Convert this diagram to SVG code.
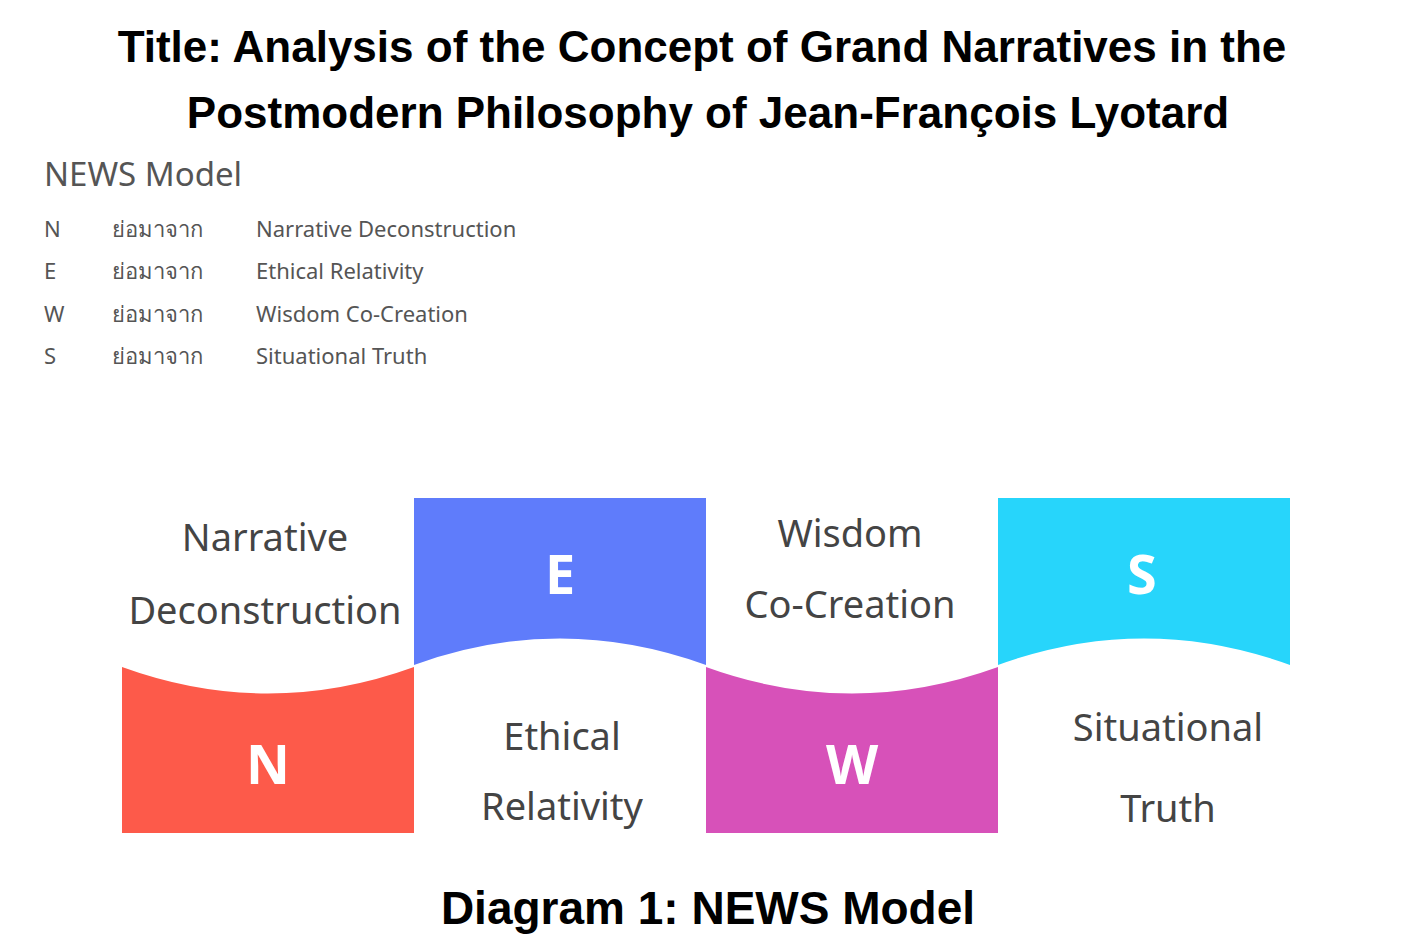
<svg xmlns="http://www.w3.org/2000/svg" width="1414" height="941" viewBox="0 0 1414 941">
<style>
.t{font-family:"Liberation Sans",Arial,sans-serif;font-weight:bold;fill:#000;text-anchor:middle}
.g{font-family:"Noto Sans","Open Sans","DejaVu Sans",sans-serif;fill:#555}
.h{font-family:"Noto Sans","Open Sans",sans-serif;fill:#444;text-anchor:middle;font-size:38px}
.L{font-family:"Noto Sans","Open Sans",sans-serif;fill:#fff;font-weight:bold;text-anchor:middle;font-size:54px}
</style>
<rect width="1414" height="941" fill="#fff"/>
<text class="t" x="702" y="62" font-size="44">Title: Analysis of the Concept of Grand Narratives in the</text>
<text class="t" x="708" y="128" font-size="44">Postmodern Philosophy of Jean-François Lyotard</text>
<g id="legend">
<text class="g" x="44" y="186" font-size="33" fill="#333">NEWS Model</text>
<g font-size="22">
<text class="g" x="44" y="237">N</text><text class="g" x="112" y="237">ย่อมาจาก</text><text class="g" x="256" y="237">Narrative Deconstruction</text>
<text class="g" x="44" y="279">E</text><text class="g" x="112" y="279">ย่อมาจาก</text><text class="g" x="256" y="279">Ethical Relativity</text>
<text class="g" x="44" y="322">W</text><text class="g" x="112" y="322">ย่อมาจาก</text><text class="g" x="256" y="322">Wisdom Co-Creation</text>
<text class="g" x="44" y="364">S</text><text class="g" x="112" y="364">ย่อมาจาก</text><text class="g" x="256" y="364">Situational Truth</text>
</g>
</g>
<g id="N"><path d="M122 667 Q268 720 414 667 L414 833 L122 833 Z" fill="#fd5a4a"/><text class="L" x="268" y="784">N</text>
<text class="h" x="265" y="551">Narrative</text><text class="h" x="265" y="624">Deconstruction</text></g>
<g id="E"><path d="M414 498 L706 498 L706 665 Q560 612 414 665 Z" fill="#5f7cfb"/><text class="L" x="560" y="594">E</text>
<text class="h" x="562" y="750">Ethical</text><text class="h" x="562" y="820">Relativity</text></g>
<g id="W"><path d="M706 667 Q852 720 998 667 L998 833 L706 833 Z" fill="#d751b9"/><text class="L" x="852" y="784">W</text>
<text class="h" x="850" y="547">Wisdom</text><text class="h" x="850" y="618">Co-Creation</text></g>
<g id="S"><path d="M998 498 L1290 498 L1290 665 Q1144 612 998 665 Z" fill="#27d5fb"/><text class="L" x="1142" y="594">S</text>
<text class="h" x="1168" y="741">Situational</text><text class="h" x="1168" y="822">Truth</text></g>
<g id="connectors"/>
<text class="t" x="708" y="924" font-size="46">Diagram 1: NEWS Model</text>
</svg>
